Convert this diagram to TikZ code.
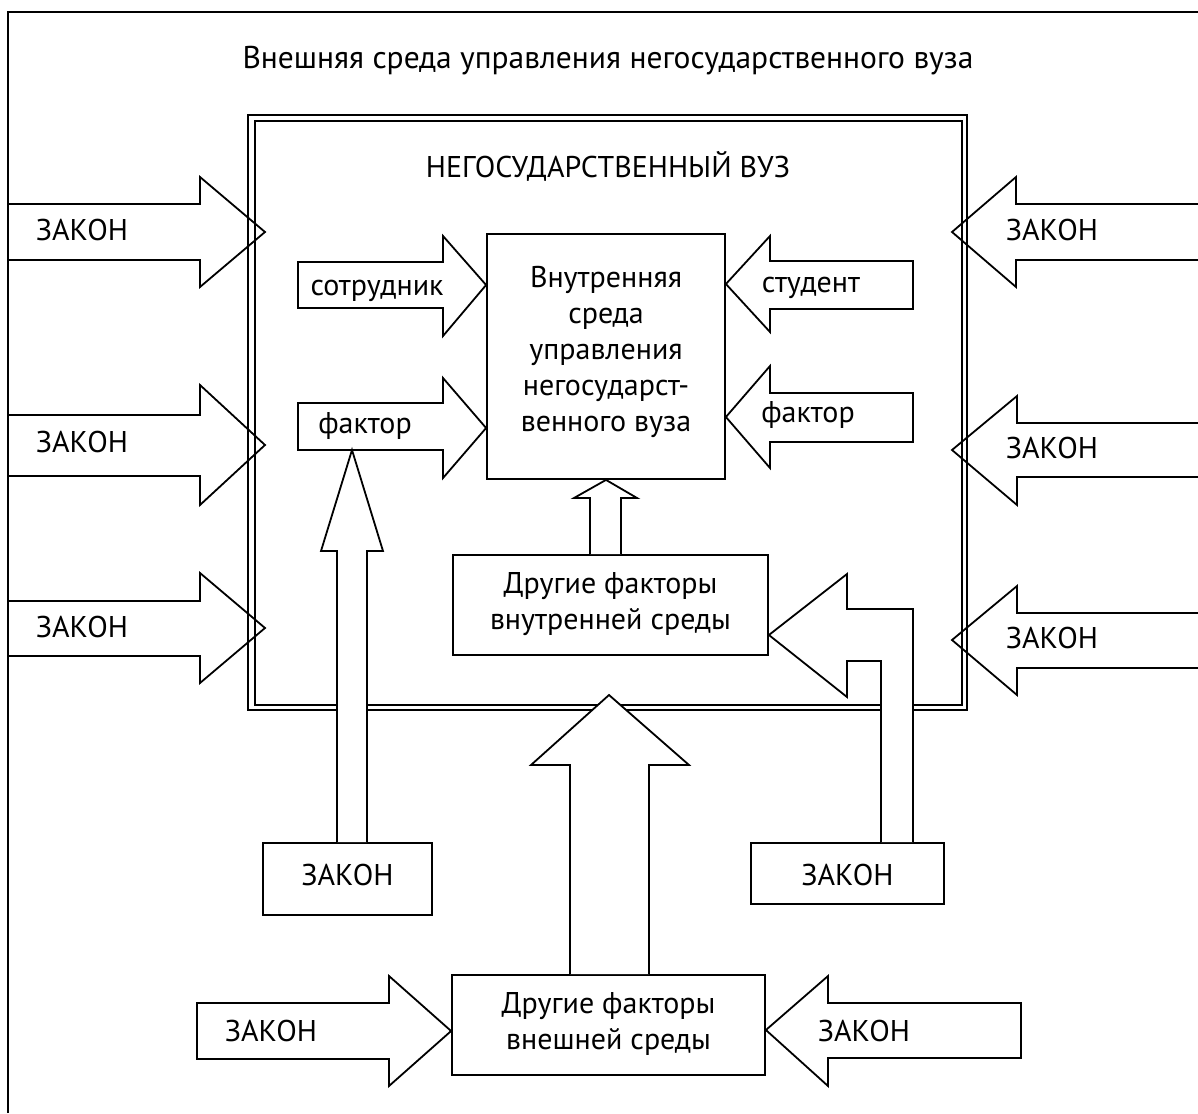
\documentclass[tikz,border=0pt]{standalone}
\usepackage{fontspec}
\setmainfont{PT Sans}
\begin{document}
\begin{tikzpicture}[x=1pt,y=-1pt,
  ln/.style={line width=1.8pt, line join=miter},
  box/.style={draw, line width=1.8pt, fill=white, inner sep=0pt},
  blk/.style={draw, line width=1.8pt, line join=miter, fill=white},
  lbl/.style={inner sep=0pt, anchor=base, font=\fontsize{30}{36}\selectfont},
  mlt/.style={inner sep=0pt, align=center, font=\fontsize{30}{36}\selectfont}
]
\useasboundingbox (0,0) rectangle (1198,1113);
% outer environment frame (cropped)
\draw[ln] (8,1113) -- (8,12) -- (1198,12);
\node[lbl, font=\fontsize{31.5}{36}\selectfont] (title) at (608,69) {Внешняя среда управления негосударственного вуза};

% side ZAKON arrows (frame drawn over them)
\draw[ln] (8,204) -- (200,204) -- (200,177) -- (265,232) -- (200,287) -- (200,260) -- (8,260);
\draw[ln] (8,415) -- (200,415) -- (200,385) -- (265,445) -- (200,505) -- (200,476) -- (8,476);
\draw[ln] (8,601) -- (200,601) -- (200,573) -- (265,628) -- (200,683) -- (200,656) -- (8,656);
\draw[ln] (1198,204) -- (1016,204) -- (1016,177) -- (952,232) -- (1016,287) -- (1016,260) -- (1198,260);
\draw[ln] (1198,423) -- (1017,423) -- (1017,396) -- (952,450) -- (1017,505) -- (1017,477) -- (1198,477);
\draw[ln] (1198,613) -- (1017,613) -- (1017,586) -- (952,640) -- (1017,695) -- (1017,668) -- (1198,668);
\node[lbl] (zl1) at (82,240) {ЗАКОН};
\node[lbl] (zl2) at (82,452) {ЗАКОН};
\node[lbl] (zl3) at (82,637) {ЗАКОН};
\node[lbl] (zr1) at (1052,240) {ЗАКОН};
\node[lbl] (zr2) at (1052,458) {ЗАКОН};
\node[lbl] (zr3) at (1052,648) {ЗАКОН};

% university double frame
\draw[line width=2.3pt] (248,115) rectangle (967,710);
\draw[line width=1.6pt] (255,121) rectangle (962,705);
\node[lbl] (vuz) at (608,177) {НЕГОСУДАРСТВЕННЫЙ ВУЗ};

% central box
\node[box, minimum width=238pt, minimum height=245pt] (core) at (606,356.5) {};
\node[mlt] (coretext) at (606,352)
  {Внутренняя\\среда\\управления\\негосударст-\\венного вуза};

% inner arrows
\draw[blk] (298,262) -- (443,262) -- (443,236) -- (core.west |- 0,285) -- (443,336) -- (443,308) -- (298,308) -- cycle;
\node[lbl] (sotr) at (377,295) {сотрудник};
\draw[blk] (298,403) -- (443,403) -- (443,378) -- (core.west |- 0,428) -- (443,478) -- (443,450) -- (298,450) -- cycle;
\node[lbl] (fakl) at (365,433) {фактор};
\draw[blk] (913,261) -- (770,261) -- (770,236) -- (core.east |- 0,284) -- (770,332) -- (770,309) -- (913,309) -- cycle;
\node[lbl] (stud) at (811,292) {студент};
\draw[blk] (913,393) -- (770,393) -- (770,366) -- (core.east |- 0,417) -- (770,468) -- (770,442) -- (913,442) -- cycle;
\node[lbl] (fakr) at (808,422) {фактор};

% internal other factors box
\node[box, minimum width=315pt, minimum height=100pt] (innerf) at (610.5,605) {};
\node[mlt] (innerftext) at (610.5,604) {Другие факторы\\внутренней среды};
\draw[blk] (innerf.north -| 590,0) -- (590,498) -- (574,498) -- (core.south) -- (637,498) -- (621,498) -- (innerf.north -| 621,0);

% bottom law boxes
\node[box, minimum width=169pt, minimum height=72pt] (zbl) at (347.5,879) {};
\node[lbl] (zbltext) at (347.5,885) {ЗАКОН};
\node[box, minimum width=193pt, minimum height=61pt] (zbr) at (847.5,873.5) {};
\node[lbl] (zbrtext) at (847.5,885) {ЗАКОН};

% external other factors box
\node[box, minimum width=313pt, minimum height=100pt] (outerf) at (608.5,1025) {};
\node[mlt] (outerftext) at (608.5,1024) {Другие факторы\\внешней среды};

% vertical / bent arrows over the frame
\draw[blk] (zbl.north -| 337,0) -- (337,551) -- (321,551) -- (352,450) -- (383,551) -- (367,551) -- (zbl.north -| 367,0);
\draw[blk] (outerf.north -| 570,0) -- (570,765) -- (531,765) -- (609,695) -- (689,765) -- (649,765) -- (outerf.north -| 649,0);
\draw[blk] (zbr.north -| 881,0) -- (881,661) -- (847,661) -- (847,697) -- (innerf.east |- 0,635) -- (847,574) -- (847,609) -- (913,609) -- (zbr.north -| 913,0);

% bottom law arrows
\draw[blk] (197,1003) -- (389,1003) -- (389,976) -- (outerf.west |- 0,1031) -- (389,1086) -- (389,1059) -- (197,1059) -- cycle;
\node[lbl] (zbll) at (271,1041) {ЗАКОН};
\draw[blk] (1021,1003) -- (828,1003) -- (828,976) -- (outerf.east |- 0,1030) -- (828,1086) -- (828,1058) -- (1021,1058) -- cycle;
\node[lbl] (zbrr) at (864,1041) {ЗАКОН};
\end{tikzpicture}
\end{document}
